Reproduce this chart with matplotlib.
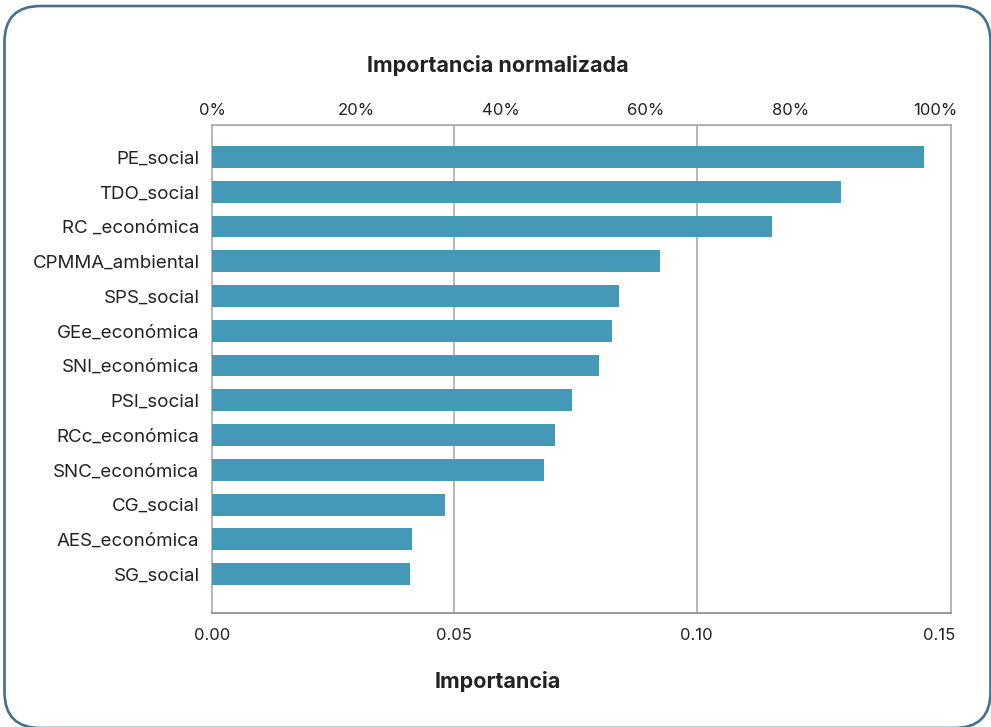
import matplotlib
matplotlib.use("Agg")
import matplotlib.pyplot as plt
import matplotlib.patches as mpatches
from matplotlib.ticker import FuncFormatter

# data
features = ["PE_social", "TDO_social", "RC _económica", "CPMMA_ambiental", "SPS_social",
            "GEe_económica", "SNI_económica", "PSI_social", "RCc_económica", "SNC_económica",
            "CG_social", "AES_económica", "SG_social"]
importance = [0.1470, 0.1298, 0.1156, 0.0925, 0.0840, 0.0826, 0.0799,
              0.0743, 0.0708, 0.0685, 0.0481, 0.0413, 0.0409]
bottom_ticks = [0.00, 0.05, 0.10, 0.15]
grid_at = [0.05, 0.10]
pct_ticks = [0, 20, 40, 60, 80, 100]
norm_ref = 0.1492  # importance that maps to 100% on the top axis

plt.rcParams['font.family'] = ['Inter', 'DejaVu Sans']
text_col = "#222222"
bar_col = "#4499b7"
grid_col = "#aaaaaa"

fig = plt.figure(figsize=(9.91, 7.27), dpi=100)

# rounded frame round the whole picture (runs slightly off the right and bottom edges)
frame = mpatches.FancyBboxPatch((0.045, -0.01), 9.86, 7.22,
                                boxstyle="round,pad=0,rounding_size=0.36",
                                transform=fig.dpi_scale_trans, fill=False,
                                edgecolor="#44708f", linewidth=1.9)
fig.patches.append(frame)

ax = fig.add_axes([212 / 991, 114 / 727, 739 / 991, 488 / 727])
pos = list(range(len(features)))
ax.barh(pos, importance, height=0.63, color=bar_col, zorder=3)
ax.set_yticks(pos)
ax.set_yticklabels(features)
ax.set_ylim(len(features) - 1 + 1.12, -0.92)
ax.set_xlim(0, 0.1525)
ax.set_xticks(bottom_ticks)
ax.xaxis.set_major_formatter(FuncFormatter(lambda v, p: f"{v:.2f}"))
for g in grid_at:
    ax.axvline(g, color=grid_col, linewidth=1.2, zorder=0)
ax.tick_params(axis="y", length=0, pad=9, labelsize=13.5, labelcolor=text_col)
ax.tick_params(axis="x", length=0, pad=11, labelsize=12, labelcolor=text_col)
for side in ["left", "right", "top"]:
    ax.spines[side].set_color(grid_col)
    ax.spines[side].set_linewidth(1.2)
ax.spines["bottom"].set_color("#888888")
ax.spines["bottom"].set_linewidth(1.2)

top = ax.secondary_xaxis("top", functions=(lambda v: v / norm_ref * 100,
                                           lambda p: p * norm_ref / 100))
top.set_xticks(pct_ticks)
top.xaxis.set_major_formatter(FuncFormatter(lambda v, p: f"{v:.0f}%"))
top.tick_params(length=0, pad=5, labelsize=12, labelcolor=text_col)
top.spines["top"].set_color(grid_col)

fig.text(498 / 991, 1 - 66 / 727, "Importancia normalizada", ha="center", va="center",
         fontsize=15.5, fontweight="bold", color=text_col)
fig.text(498 / 991, 1 - 682 / 727, "Importancia", ha="center", va="center",
         fontsize=15.5, fontweight="bold", color=text_col)

fig.savefig("out.png", dpi=100)
